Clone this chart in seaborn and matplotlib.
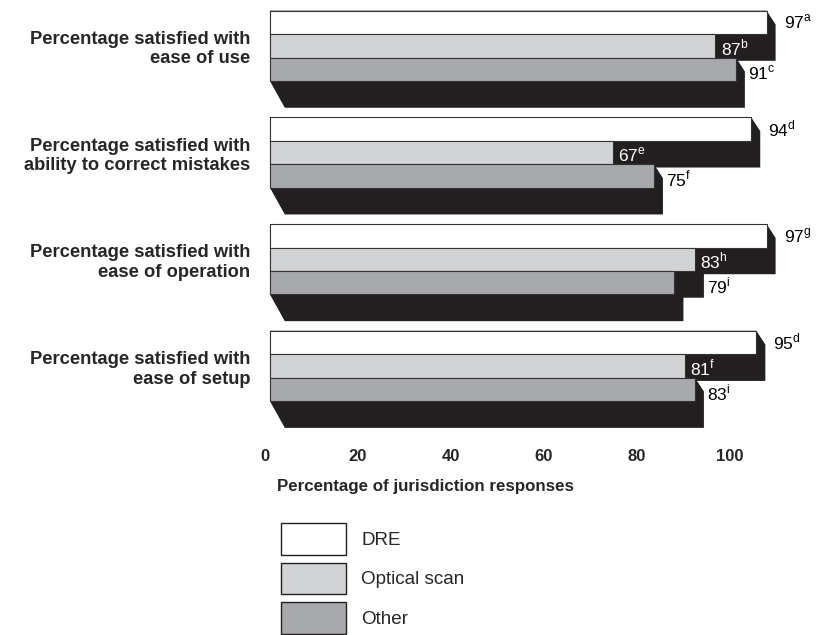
import numpy as np
import pandas as pd
import matplotlib
matplotlib.use("Agg")
import matplotlib.pyplot as plt
from matplotlib.patches import Polygon, Patch
import seaborn as sns

# data
categories = [
    "Percentage satisfied with\nease of use",
    "Percentage satisfied with\nability to correct mistakes",
    "Percentage satisfied with\nease of operation",
    "Percentage satisfied with\nease of setup",
]
series = ["DRE", "Optical scan", "Other"]
dre = [97, 94, 97, 95]
optical_scan = [87, 67, 83, 81]
other = [91, 75, 79, 83]
dre_notes = ["a", "d", "g", "d"]
optical_notes = ["b", "e", "h", "f"]
other_notes = ["c", "f", "i", "i"]
tick_values = [0, 20, 40, 60, 80, 100]

colors = ["#ffffff", "#d1d3d4", "#a7a9ac"]
shadow = "#231f20"

sns.set_style("white")
plt.rcParams["font.family"] = ["Liberation Sans", "DejaVu Sans"]

df = pd.DataFrame({
    "category": categories * 3,
    "series": np.repeat(series, len(categories)),
    "value": dre + optical_scan + other,
})
notes = [dre_notes, optical_notes, other_notes]

fig = plt.figure(figsize=(8.23, 6.35), dpi=100)
ax = fig.add_axes([254.6 / 823, 1 - 430 / 635, 553 / 823, 430 / 635])

sns.barplot(data=df, y="category", x="value", hue="series", hue_order=series,
            order=categories, palette=colors, orient="h", width=0.66,
            saturation=1, errorbar=None, edgecolor="#333333", linewidth=0.8,
            legend=False, ax=ax, zorder=3)

ax.set_xlim(-3, 105)
ax.set_ylim(3.6, -0.43)

# fake 3d depth: black block behind every bar
dx_face, dy_face = 1.75, 0.13
dx_floor, depth = 2.9, 0.25
for k, bars in enumerate(ax.containers):
    for j, bar in enumerate(bars):
        v = bar.get_width()
        top = bar.get_y()
        bot = top + bar.get_height()
        pts = [(0, top), (v, top), (v + dx_face, top + dy_face),
               (v + dx_face, bot + depth), (dx_floor, bot + depth), (0, bot)]
        ax.add_patch(Polygon(pts, closed=True, facecolor=shadow,
                             edgecolor="none", zorder=2))

        y_mid = top + bar.get_height() / 2
        label = f"{v:.0f}$^{{\\mathregular{{{notes[k][j]}}}}}$"
        if k == 0:
            ax.text(v + 3.3, y_mid, label, ha="left", va="center",
                    fontsize=12.5, color="black", zorder=4)
        else:
            above = ax.containers[k - 1][j].get_width()
            if above - v > 6:
                # label sits on the black block of the bar above
                ax.text(v + 1.0, y_mid + 0.02, label, ha="left", va="center",
                        fontsize=12.5, color="white", zorder=4)
            else:
                ax.text(max(v, above) + dx_face + 0.6, y_mid + 0.03, label,
                        ha="left", va="center", fontsize=12.5, color="black",
                        zorder=4)

ax.set_xticks([])
ax.set_xlabel("")
ax.set_ylabel("")
ax.set_yticks(range(len(categories)))
ax.set_yticklabels(categories, fontweight="bold", fontsize=13.2)
ax.tick_params(axis="y", length=0, pad=3.3)
sns.despine(ax=ax, left=True, bottom=True)

# tick labels sit on their own scale in the original
ax2 = ax.twiny()
ax2.set_xlim(-2.24, 116.7)
ax2.set_xticks(tick_values)
ax2.set_xticklabels([str(t) for t in tick_values], fontweight="bold", fontsize=12)
ax2.xaxis.set_ticks_position("bottom")
ax2.tick_params(axis="x", length=0, pad=14)
for s in ax2.spines.values():
    s.set_visible(False)

fig.text(277 / 823, 1 - 487 / 635, "Percentage of jurisdiction responses",
         ha="left", va="center", fontsize=12.2, fontweight="bold")

handles = [Patch(facecolor=c, edgecolor=shadow, linewidth=1) for c in colors]
fig.legend(handles, series, loc="upper left",
           bbox_to_anchor=(281 / 823, 1 - 523 / 635), frameon=False,
           fontsize=13.6, handlelength=3.45, handleheight=2.2,
           handletextpad=0.8, labelspacing=0.42, borderpad=0,
           borderaxespad=0)

fig.savefig("out.png", dpi=100)
